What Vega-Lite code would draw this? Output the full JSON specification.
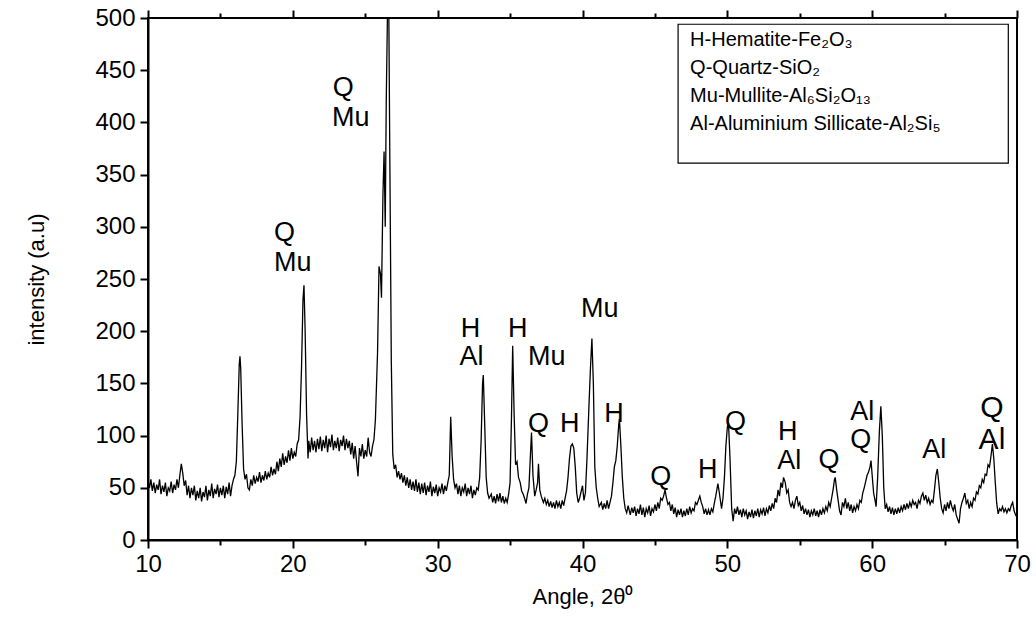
{
 "$schema": "https://vega.github.io/schema/vega-lite/v6.json",
 "width": 869,
 "height": 522,
 "autosize": {"type": "none"},
 "padding": {"left": 148, "top": 18, "right": 19, "bottom": 80},
 "background": "white",
 "config": {
  "view": {"stroke": "black", "strokeWidth": 2},
  "font": "Liberation Sans",
  "style": {"guide-label": {"fontSize": 24, "font": "Liberation Sans", "fill": "black"}, "guide-title": {"fontSize": 22, "font": "Liberation Sans", "fill": "black", "fontWeight": "normal"}},
  "axis": {"domainColor": "black", "domainWidth": 2, "tickColor": "black", "tickWidth": 2, "labelColor": "black", "titleColor": "black", "grid": false, "titleFontWeight": "normal"}
 },
 "datasets": {
  "xrd": [
   {"angle":10.0,"intensity":57},{"angle":10.1,"intensity":50},{"angle":10.2,"intensity":58},{"angle":10.3,"intensity":47},{"angle":10.4,"intensity":55},{"angle":10.5,"intensity":45},{"angle":10.6,"intensity":53},{"angle":10.7,"intensity":48},{"angle":10.8,"intensity":58},{"angle":10.9,"intensity":44},
   {"angle":11.0,"intensity":52},{"angle":11.1,"intensity":46},{"angle":11.2,"intensity":55},{"angle":11.3,"intensity":42},{"angle":11.4,"intensity":50},{"angle":11.5,"intensity":47},{"angle":11.6,"intensity":56},{"angle":11.7,"intensity":45},{"angle":11.8,"intensity":53},{"angle":11.9,"intensity":48},
   {"angle":12.0,"intensity":58},{"angle":12.1,"intensity":50},{"angle":12.2,"intensity":62},{"angle":12.3,"intensity":73},{"angle":12.4,"intensity":64},{"angle":12.5,"intensity":52},{"angle":12.6,"intensity":57},{"angle":12.7,"intensity":43},{"angle":12.8,"intensity":52},{"angle":12.9,"intensity":40},
   {"angle":13.0,"intensity":50},{"angle":13.1,"intensity":43},{"angle":13.2,"intensity":52},{"angle":13.3,"intensity":38},{"angle":13.4,"intensity":47},{"angle":13.5,"intensity":40},{"angle":13.6,"intensity":50},{"angle":13.7,"intensity":37},{"angle":13.8,"intensity":46},{"angle":13.9,"intensity":41},
   {"angle":14.0,"intensity":52},{"angle":14.1,"intensity":38},{"angle":14.2,"intensity":48},{"angle":14.3,"intensity":42},{"angle":14.4,"intensity":54},{"angle":14.5,"intensity":40},{"angle":14.6,"intensity":49},{"angle":14.7,"intensity":44},{"angle":14.8,"intensity":53},{"angle":14.9,"intensity":41},
   {"angle":15.0,"intensity":50},{"angle":15.1,"intensity":43},{"angle":15.2,"intensity":52},{"angle":15.3,"intensity":40},{"angle":15.4,"intensity":51},{"angle":15.5,"intensity":44},{"angle":15.6,"intensity":55},{"angle":15.7,"intensity":42},{"angle":15.8,"intensity":52},{"angle":15.9,"intensity":58},
   {"angle":16.0,"intensity":62},{"angle":16.1,"intensity":75},{"angle":16.2,"intensity":120},{"angle":16.3,"intensity":168},{"angle":16.35,"intensity":176},{"angle":16.4,"intensity":165},{"angle":16.5,"intensity":110},{"angle":16.6,"intensity":68},{"angle":16.7,"intensity":58},{"angle":16.8,"intensity":63},{"angle":16.9,"intensity":50},
   {"angle":17.0,"intensity":48},{"angle":17.1,"intensity":58},{"angle":17.2,"intensity":52},{"angle":17.3,"intensity":62},{"angle":17.4,"intensity":54},{"angle":17.5,"intensity":60},{"angle":17.6,"intensity":56},{"angle":17.7,"intensity":65},{"angle":17.8,"intensity":55},{"angle":17.9,"intensity":62},
   {"angle":18.0,"intensity":57},{"angle":18.1,"intensity":66},{"angle":18.2,"intensity":58},{"angle":18.3,"intensity":64},{"angle":18.4,"intensity":60},{"angle":18.5,"intensity":70},{"angle":18.6,"intensity":62},{"angle":18.7,"intensity":68},{"angle":18.8,"intensity":63},{"angle":18.9,"intensity":75},
   {"angle":19.0,"intensity":66},{"angle":19.1,"intensity":78},{"angle":19.2,"intensity":70},{"angle":19.3,"intensity":83},{"angle":19.4,"intensity":72},{"angle":19.5,"intensity":80},{"angle":19.6,"intensity":74},{"angle":19.7,"intensity":86},{"angle":19.8,"intensity":76},{"angle":19.9,"intensity":88},
   {"angle":20.0,"intensity":78},{"angle":20.1,"intensity":84},{"angle":20.2,"intensity":80},{"angle":20.3,"intensity":92},{"angle":20.4,"intensity":96},{"angle":20.5,"intensity":118},{"angle":20.6,"intensity":165},{"angle":20.7,"intensity":230},{"angle":20.77,"intensity":244},{"angle":20.85,"intensity":200},{"angle":20.95,"intensity":120},
   {"angle":21.05,"intensity":78},{"angle":21.1,"intensity":95},{"angle":21.2,"intensity":84},{"angle":21.3,"intensity":98},{"angle":21.4,"intensity":86},{"angle":21.5,"intensity":95},{"angle":21.6,"intensity":84},{"angle":21.7,"intensity":97},{"angle":21.8,"intensity":87},{"angle":21.9,"intensity":99},
   {"angle":22.0,"intensity":85},{"angle":22.1,"intensity":96},{"angle":22.2,"intensity":88},{"angle":22.3,"intensity":100},{"angle":22.4,"intensity":84},{"angle":22.5,"intensity":97},{"angle":22.6,"intensity":89},{"angle":22.7,"intensity":101},{"angle":22.8,"intensity":86},{"angle":22.9,"intensity":95},
   {"angle":23.0,"intensity":88},{"angle":23.1,"intensity":98},{"angle":23.2,"intensity":85},{"angle":23.3,"intensity":96},{"angle":23.4,"intensity":90},{"angle":23.5,"intensity":100},{"angle":23.6,"intensity":86},{"angle":23.7,"intensity":97},{"angle":23.8,"intensity":88},{"angle":23.9,"intensity":95},
   {"angle":24.0,"intensity":82},{"angle":24.1,"intensity":93},{"angle":24.2,"intensity":78},{"angle":24.3,"intensity":90},{"angle":24.4,"intensity":75},{"angle":24.5,"intensity":61},{"angle":24.6,"intensity":88},{"angle":24.7,"intensity":80},{"angle":24.8,"intensity":92},{"angle":24.9,"intensity":78},
   {"angle":25.0,"intensity":86},{"angle":25.1,"intensity":80},{"angle":25.2,"intensity":98},{"angle":25.3,"intensity":84},{"angle":25.4,"intensity":80},{"angle":25.5,"intensity":90},{"angle":25.6,"intensity":96},{"angle":25.7,"intensity":115},{"angle":25.85,"intensity":180},{"angle":25.95,"intensity":262},
   {"angle":26.05,"intensity":255},{"angle":26.12,"intensity":232},{"angle":26.22,"intensity":330},{"angle":26.3,"intensity":372},{"angle":26.38,"intensity":300},{"angle":26.45,"intensity":420},{"angle":26.55,"intensity":520},{"angle":26.62,"intensity":520},{"angle":26.7,"intensity":360},{"angle":26.8,"intensity":170},{"angle":26.9,"intensity":82},
   {"angle":27.0,"intensity":68},{"angle":27.1,"intensity":72},{"angle":27.2,"intensity":60},{"angle":27.3,"intensity":66},{"angle":27.4,"intensity":58},{"angle":27.5,"intensity":64},{"angle":27.6,"intensity":55},{"angle":27.7,"intensity":62},{"angle":27.8,"intensity":52},{"angle":27.9,"intensity":60},
   {"angle":28.0,"intensity":50},{"angle":28.1,"intensity":58},{"angle":28.2,"intensity":48},{"angle":28.3,"intensity":56},{"angle":28.4,"intensity":47},{"angle":28.5,"intensity":58},{"angle":28.6,"intensity":46},{"angle":28.7,"intensity":55},{"angle":28.8,"intensity":44},{"angle":28.9,"intensity":54},
   {"angle":29.0,"intensity":45},{"angle":29.1,"intensity":55},{"angle":29.2,"intensity":43},{"angle":29.3,"intensity":52},{"angle":29.4,"intensity":46},{"angle":29.5,"intensity":56},{"angle":29.6,"intensity":42},{"angle":29.7,"intensity":51},{"angle":29.8,"intensity":45},{"angle":29.9,"intensity":53},
   {"angle":30.0,"intensity":42},{"angle":30.1,"intensity":50},{"angle":30.2,"intensity":46},{"angle":30.3,"intensity":54},{"angle":30.4,"intensity":44},{"angle":30.5,"intensity":52},{"angle":30.6,"intensity":47},{"angle":30.7,"intensity":55},{"angle":30.8,"intensity":62},{"angle":30.9,"intensity":118},
   {"angle":31.0,"intensity":80},{"angle":31.1,"intensity":58},{"angle":31.2,"intensity":50},{"angle":31.3,"intensity":54},{"angle":31.4,"intensity":44},{"angle":31.5,"intensity":52},{"angle":31.6,"intensity":42},{"angle":31.7,"intensity":50},{"angle":31.8,"intensity":46},{"angle":31.9,"intensity":54},
   {"angle":32.0,"intensity":42},{"angle":32.1,"intensity":50},{"angle":32.2,"intensity":44},{"angle":32.3,"intensity":52},{"angle":32.4,"intensity":40},{"angle":32.5,"intensity":48},{"angle":32.6,"intensity":43},{"angle":32.7,"intensity":50},{"angle":32.8,"intensity":48},{"angle":32.9,"intensity":60},
   {"angle":33.0,"intensity":95},{"angle":33.1,"intensity":150},{"angle":33.15,"intensity":158},{"angle":33.25,"intensity":110},{"angle":33.35,"intensity":60},{"angle":33.45,"intensity":45},{"angle":33.55,"intensity":40},{"angle":33.7,"intensity":44},{"angle":33.8,"intensity":36},{"angle":33.9,"intensity":42},
   {"angle":34.0,"intensity":35},{"angle":34.1,"intensity":44},{"angle":34.2,"intensity":37},{"angle":34.3,"intensity":45},{"angle":34.4,"intensity":36},{"angle":34.5,"intensity":42},{"angle":34.6,"intensity":35},{"angle":34.7,"intensity":40},{"angle":34.8,"intensity":36},{"angle":34.9,"intensity":44},
   {"angle":35.0,"intensity":55},{"angle":35.1,"intensity":120},{"angle":35.18,"intensity":186},{"angle":35.28,"intensity":120},{"angle":35.38,"intensity":72},{"angle":35.48,"intensity":75},{"angle":35.58,"intensity":60},{"angle":35.7,"intensity":55},{"angle":35.8,"intensity":47},{"angle":35.9,"intensity":44},
   {"angle":36.0,"intensity":40},{"angle":36.1,"intensity":35},{"angle":36.2,"intensity":44},{"angle":36.3,"intensity":50},{"angle":36.4,"intensity":80},{"angle":36.48,"intensity":103},{"angle":36.58,"intensity":62},{"angle":36.7,"intensity":42},{"angle":36.8,"intensity":48},{"angle":36.9,"intensity":55},{"angle":36.96,"intensity":73},
   {"angle":37.05,"intensity":48},{"angle":37.15,"intensity":42},{"angle":37.3,"intensity":36},{"angle":37.4,"intensity":40},{"angle":37.5,"intensity":34},{"angle":37.6,"intensity":38},{"angle":37.7,"intensity":32},{"angle":37.8,"intensity":37},{"angle":37.9,"intensity":31},
   {"angle":38.0,"intensity":36},{"angle":38.1,"intensity":30},{"angle":38.2,"intensity":38},{"angle":38.3,"intensity":32},{"angle":38.4,"intensity":36},{"angle":38.5,"intensity":30},{"angle":38.6,"intensity":38},{"angle":38.7,"intensity":33},{"angle":38.8,"intensity":40},{"angle":38.9,"intensity":47},
   {"angle":39.0,"intensity":60},{"angle":39.1,"intensity":78},{"angle":39.2,"intensity":90},{"angle":39.3,"intensity":92},{"angle":39.4,"intensity":88},{"angle":39.5,"intensity":70},{"angle":39.6,"intensity":45},{"angle":39.7,"intensity":36},{"angle":39.8,"intensity":40},{"angle":39.9,"intensity":46},
   {"angle":40.0,"intensity":52},{"angle":40.1,"intensity":38},{"angle":40.2,"intensity":45},{"angle":40.3,"intensity":75},{"angle":40.45,"intensity":130},{"angle":40.55,"intensity":165},{"angle":40.65,"intensity":193},{"angle":40.75,"intensity":150},{"angle":40.85,"intensity":70},{"angle":40.95,"intensity":50},
   {"angle":41.05,"intensity":40},{"angle":41.15,"intensity":32},{"angle":41.3,"intensity":36},{"angle":41.4,"intensity":29},{"angle":41.5,"intensity":35},{"angle":41.6,"intensity":30},{"angle":41.7,"intensity":38},{"angle":41.8,"intensity":30},{"angle":41.9,"intensity":36},
   {"angle":42.0,"intensity":42},{"angle":42.1,"intensity":55},{"angle":42.2,"intensity":70},{"angle":42.3,"intensity":76},{"angle":42.4,"intensity":90},{"angle":42.5,"intensity":110},{"angle":42.55,"intensity":116},{"angle":42.65,"intensity":90},{"angle":42.75,"intensity":60},{"angle":42.85,"intensity":40},{"angle":42.95,"intensity":30},
   {"angle":43.05,"intensity":26},{"angle":43.15,"intensity":33},{"angle":43.3,"intensity":24},{"angle":43.4,"intensity":31},{"angle":43.5,"intensity":26},{"angle":43.6,"intensity":32},{"angle":43.7,"intensity":23},{"angle":43.8,"intensity":30},{"angle":43.9,"intensity":25},
   {"angle":44.0,"intensity":34},{"angle":44.1,"intensity":24},{"angle":44.2,"intensity":31},{"angle":44.3,"intensity":22},{"angle":44.4,"intensity":30},{"angle":44.5,"intensity":26},{"angle":44.6,"intensity":33},{"angle":44.7,"intensity":23},{"angle":44.8,"intensity":30},{"angle":44.9,"intensity":27},
   {"angle":45.0,"intensity":34},{"angle":45.1,"intensity":28},{"angle":45.2,"intensity":36},{"angle":45.3,"intensity":30},{"angle":45.4,"intensity":40},{"angle":45.5,"intensity":38},{"angle":45.6,"intensity":42},{"angle":45.7,"intensity":48},{"angle":45.8,"intensity":40},{"angle":45.9,"intensity":34},
   {"angle":46.0,"intensity":36},{"angle":46.1,"intensity":28},{"angle":46.2,"intensity":34},{"angle":46.3,"intensity":25},{"angle":46.4,"intensity":31},{"angle":46.5,"intensity":22},{"angle":46.6,"intensity":29},{"angle":46.7,"intensity":24},{"angle":46.8,"intensity":30},{"angle":46.9,"intensity":22},
   {"angle":47.0,"intensity":28},{"angle":47.1,"intensity":23},{"angle":47.2,"intensity":30},{"angle":47.3,"intensity":24},{"angle":47.4,"intensity":32},{"angle":47.5,"intensity":26},{"angle":47.6,"intensity":30},{"angle":47.7,"intensity":28},{"angle":47.8,"intensity":36},{"angle":47.9,"intensity":34},
   {"angle":48.0,"intensity":38},{"angle":48.1,"intensity":42},{"angle":48.2,"intensity":36},{"angle":48.3,"intensity":32},{"angle":48.4,"intensity":25},{"angle":48.5,"intensity":30},{"angle":48.6,"intensity":24},{"angle":48.7,"intensity":29},{"angle":48.8,"intensity":24},{"angle":48.9,"intensity":30},
   {"angle":49.0,"intensity":27},{"angle":49.1,"intensity":35},{"angle":49.2,"intensity":42},{"angle":49.35,"intensity":54},{"angle":49.45,"intensity":45},{"angle":49.6,"intensity":30},{"angle":49.7,"intensity":40},{"angle":49.8,"intensity":60},{"angle":49.9,"intensity":90},
   {"angle":50.0,"intensity":108},{"angle":50.08,"intensity":112},{"angle":50.18,"intensity":80},{"angle":50.3,"intensity":30},{"angle":50.4,"intensity":18},{"angle":50.5,"intensity":30},{"angle":50.6,"intensity":25},{"angle":50.7,"intensity":32},{"angle":50.8,"intensity":24},{"angle":50.9,"intensity":29},
   {"angle":51.0,"intensity":22},{"angle":51.1,"intensity":30},{"angle":51.2,"intensity":24},{"angle":51.3,"intensity":28},{"angle":51.4,"intensity":20},{"angle":51.5,"intensity":27},{"angle":51.6,"intensity":22},{"angle":51.7,"intensity":29},{"angle":51.8,"intensity":21},{"angle":51.9,"intensity":28},
   {"angle":52.0,"intensity":23},{"angle":52.1,"intensity":30},{"angle":52.2,"intensity":22},{"angle":52.3,"intensity":29},{"angle":52.4,"intensity":25},{"angle":52.5,"intensity":31},{"angle":52.6,"intensity":23},{"angle":52.7,"intensity":30},{"angle":52.8,"intensity":26},{"angle":52.9,"intensity":33},
   {"angle":53.0,"intensity":28},{"angle":53.1,"intensity":35},{"angle":53.2,"intensity":30},{"angle":53.3,"intensity":40},{"angle":53.4,"intensity":36},{"angle":53.5,"intensity":48},{"angle":53.6,"intensity":42},{"angle":53.7,"intensity":55},{"angle":53.8,"intensity":50},{"angle":53.88,"intensity":60},
   {"angle":54.0,"intensity":55},{"angle":54.1,"intensity":45},{"angle":54.2,"intensity":48},{"angle":54.3,"intensity":36},{"angle":54.4,"intensity":32},{"angle":54.5,"intensity":36},{"angle":54.6,"intensity":30},{"angle":54.7,"intensity":38},{"angle":54.8,"intensity":42},{"angle":54.9,"intensity":33},
   {"angle":55.0,"intensity":36},{"angle":55.1,"intensity":28},{"angle":55.2,"intensity":33},{"angle":55.3,"intensity":25},{"angle":55.4,"intensity":30},{"angle":55.5,"intensity":24},{"angle":55.6,"intensity":29},{"angle":55.7,"intensity":22},{"angle":55.8,"intensity":28},{"angle":55.9,"intensity":24},
   {"angle":56.0,"intensity":30},{"angle":56.1,"intensity":23},{"angle":56.2,"intensity":28},{"angle":56.3,"intensity":22},{"angle":56.4,"intensity":29},{"angle":56.5,"intensity":24},{"angle":56.6,"intensity":30},{"angle":56.7,"intensity":26},{"angle":56.8,"intensity":32},{"angle":56.9,"intensity":28},
   {"angle":57.0,"intensity":36},{"angle":57.1,"intensity":32},{"angle":57.2,"intensity":40},{"angle":57.3,"intensity":48},{"angle":57.4,"intensity":58},{"angle":57.45,"intensity":60},{"angle":57.55,"intensity":48},{"angle":57.65,"intensity":38},{"angle":57.75,"intensity":28},{"angle":57.85,"intensity":24},{"angle":57.95,"intensity":36},
   {"angle":58.05,"intensity":32},{"angle":58.15,"intensity":40},{"angle":58.25,"intensity":30},{"angle":58.35,"intensity":36},{"angle":58.45,"intensity":28},{"angle":58.55,"intensity":34},{"angle":58.65,"intensity":26},{"angle":58.75,"intensity":32},{"angle":58.85,"intensity":28},{"angle":58.95,"intensity":34},
   {"angle":59.05,"intensity":30},{"angle":59.15,"intensity":38},{"angle":59.25,"intensity":36},{"angle":59.35,"intensity":45},{"angle":59.45,"intensity":50},{"angle":59.55,"intensity":56},{"angle":59.65,"intensity":62},{"angle":59.75,"intensity":65},{"angle":59.85,"intensity":70},{"angle":59.92,"intensity":76},
   {"angle":60.0,"intensity":62},{"angle":60.1,"intensity":45},{"angle":60.2,"intensity":38},{"angle":60.27,"intensity":32},{"angle":60.38,"intensity":60},{"angle":60.5,"intensity":105},{"angle":60.6,"intensity":128},{"angle":60.7,"intensity":100},{"angle":60.8,"intensity":50},{"angle":60.9,"intensity":30},
   {"angle":61.0,"intensity":34},{"angle":61.1,"intensity":27},{"angle":61.2,"intensity":32},{"angle":61.3,"intensity":25},{"angle":61.4,"intensity":31},{"angle":61.5,"intensity":24},{"angle":61.6,"intensity":30},{"angle":61.7,"intensity":25},{"angle":61.8,"intensity":31},{"angle":61.9,"intensity":26},
   {"angle":62.0,"intensity":32},{"angle":62.1,"intensity":28},{"angle":62.2,"intensity":34},{"angle":62.3,"intensity":29},{"angle":62.4,"intensity":35},{"angle":62.5,"intensity":30},{"angle":62.6,"intensity":36},{"angle":62.7,"intensity":32},{"angle":62.8,"intensity":38},{"angle":62.9,"intensity":34},
   {"angle":63.0,"intensity":36},{"angle":63.1,"intensity":30},{"angle":63.2,"intensity":38},{"angle":63.3,"intensity":35},{"angle":63.4,"intensity":42},{"angle":63.5,"intensity":45},{"angle":63.6,"intensity":38},{"angle":63.7,"intensity":43},{"angle":63.8,"intensity":36},{"angle":63.9,"intensity":40},
   {"angle":64.0,"intensity":34},{"angle":64.1,"intensity":38},{"angle":64.2,"intensity":36},{"angle":64.3,"intensity":48},{"angle":64.4,"intensity":62},{"angle":64.5,"intensity":68},{"angle":64.6,"intensity":55},{"angle":64.7,"intensity":40},{"angle":64.8,"intensity":30},{"angle":64.9,"intensity":26},
   {"angle":65.0,"intensity":34},{"angle":65.1,"intensity":28},{"angle":65.2,"intensity":36},{"angle":65.3,"intensity":30},{"angle":65.4,"intensity":38},{"angle":65.5,"intensity":32},{"angle":65.6,"intensity":28},{"angle":65.7,"intensity":34},{"angle":65.8,"intensity":24},{"angle":65.9,"intensity":20},
   {"angle":66.0,"intensity":16},{"angle":66.1,"intensity":30},{"angle":66.2,"intensity":36},{"angle":66.3,"intensity":40},{"angle":66.4,"intensity":45},{"angle":66.5,"intensity":35},{"angle":66.6,"intensity":38},{"angle":66.7,"intensity":30},{"angle":66.8,"intensity":36},{"angle":66.9,"intensity":32},
   {"angle":67.0,"intensity":40},{"angle":67.1,"intensity":38},{"angle":67.2,"intensity":46},{"angle":67.3,"intensity":44},{"angle":67.4,"intensity":52},{"angle":67.5,"intensity":50},{"angle":67.6,"intensity":58},{"angle":67.7,"intensity":55},{"angle":67.8,"intensity":63},{"angle":67.9,"intensity":62},
   {"angle":68.0,"intensity":72},{"angle":68.1,"intensity":70},{"angle":68.2,"intensity":80},{"angle":68.3,"intensity":92},{"angle":68.4,"intensity":78},{"angle":68.5,"intensity":55},{"angle":68.6,"intensity":35},{"angle":68.7,"intensity":25},{"angle":68.8,"intensity":30},{"angle":68.9,"intensity":28},
   {"angle":69.0,"intensity":32},{"angle":69.1,"intensity":27},{"angle":69.2,"intensity":30},{"angle":69.3,"intensity":26},{"angle":69.4,"intensity":30},{"angle":69.5,"intensity":28},{"angle":69.6,"intensity":33},{"angle":69.7,"intensity":36},{"angle":69.8,"intensity":28},{"angle":69.9,"intensity":24},{"angle":70.0,"intensity":22}
  ],
  "labels": [
   {"angle":22.75,"intensity":433,"text":"Q"},{"angle":22.7,"intensity":404,"text":"Mu"},
   {"angle":18.7,"intensity":294,"text":"Q"},{"angle":18.7,"intensity":265,"text":"Mu"},
   {"angle":31.6,"intensity":202,"text":"H"},{"angle":31.5,"intensity":175,"text":"Al"},
   {"angle":34.86,"intensity":202,"text":"H"},{"angle":36.24,"intensity":175,"text":"Mu"},
   {"angle":39.9,"intensity":221,"text":"Mu"},
   {"angle":36.24,"intensity":111,"text":"Q"},{"angle":38.45,"intensity":111,"text":"H"},
   {"angle":41.5,"intensity":121,"text":"H"},
   {"angle":44.67,"intensity":60,"text":"Q"},{"angle":47.98,"intensity":67,"text":"H"},
   {"angle":49.84,"intensity":113,"text":"Q"},
   {"angle":53.5,"intensity":103,"text":"H"},{"angle":53.45,"intensity":76,"text":"Al"},
   {"angle":56.3,"intensity":77,"text":"Q"},
   {"angle":58.48,"intensity":123,"text":"Al"},{"angle":58.48,"intensity":96,"text":"Q"},
   {"angle":63.45,"intensity":86,"text":"Al"},
   {"angle":67.46,"intensity":126,"text":"Q"},{"angle":67.35,"intensity":96,"text":"Al"}
  ],
  "legend": [
   {"angle":47.43,"intensity":479,"text":"H-Hematite-Fe₂O₃"},
   {"angle":47.43,"intensity":452,"text":"Q-Quartz-SiO₂"},
   {"angle":47.43,"intensity":425,"text":"Mu-Mullite-Al₆Si₂O₁₃"},
   {"angle":47.43,"intensity":398,"text":"Al-Aluminium Sillicate-Al₂Si₅"}
  ],
  "box": [
   {"angle":46.6,"angle2":69.4,"intensity":494,"intensity2":361}
  ]
 },
 "layer": [
  {
   "data": {"name": "xrd"},
   "mark": {"type": "line", "color": "black", "strokeWidth": 1.3, "clip": true},
   "encoding": {
    "x": {"field": "angle", "type": "quantitative", "scale": {"domain": [10, 70], "nice": false, "zero": false},
     "axis": {"orient": "bottom", "title": "Angle, 2θ⁰", "titlePadding": 10,
      "values": [10,15,20,25,30,35,40,45,50,55,60,65,70],
      "labelExpr": "datum.value % 10 === 0 ? datum.label : ''",
      "tickSize": {"condition": {"test": "datum.value % 10 === 0", "value": 8}, "value": 5},
      "labelPadding": 4, "labelFlush": false}},
    "y": {"field": "intensity", "type": "quantitative", "scale": {"domain": [0, 500], "nice": false},
     "axis": {"title": "intensity (a.u)", "titlePadding": 46,
      "values": [0,25,50,75,100,125,150,175,200,225,250,275,300,325,350,375,400,425,450,475,500],
      "labelExpr": "datum.value % 50 === 0 ? datum.label : ''",
      "tickSize": {"condition": {"test": "datum.value % 50 === 0", "value": 8}, "value": 5},
      "labelPadding": 5, "labelFlush": false}}
   }
  },
  {
   "data": {"name": "box"},
   "mark": {"type": "rect", "fill": "white", "fillOpacity": 0, "stroke": "black", "strokeWidth": 1.2},
   "encoding": {
    "x": {"field": "angle", "type": "quantitative",
     "axis": {"orient": "top", "title": null, "labels": false, "domain": false,
      "values": [10,15,20,25,30,35,40,45,50,55,60,65,70],
      "tickSize": {"condition": {"test": "datum.value % 10 === 0", "value": 8}, "value": 5}}},
    "x2": {"field": "angle2"},
    "y": {"field": "intensity", "type": "quantitative"},
    "y2": {"field": "intensity2"}
   }
  },
  {
   "data": {"name": "labels"},
   "transform": [{"filter": "datum.angle < 67"}],
   "mark": {"type": "text", "align": "left", "baseline": "middle", "font": "Liberation Sans", "fontSize": 27, "color": "black"},
   "encoding": {
    "x": {"field": "angle", "type": "quantitative", "axis": null},
    "y": {"field": "intensity", "type": "quantitative"},
    "text": {"field": "text"}
   }
  },
  {
   "data": {"name": "labels"},
   "transform": [{"filter": "datum.angle >= 67"}],
   "mark": {"type": "text", "align": "left", "baseline": "middle", "font": "Liberation Sans", "fontSize": 30, "color": "black"},
   "encoding": {
    "x": {"field": "angle", "type": "quantitative", "axis": null},
    "y": {"field": "intensity", "type": "quantitative"},
    "text": {"field": "text"}
   }
  },
  {
   "data": {"name": "legend"},
   "mark": {"type": "text", "align": "left", "baseline": "middle", "font": "Liberation Sans", "fontSize": 20, "color": "black"},
   "encoding": {
    "x": {"field": "angle", "type": "quantitative", "axis": null},
    "y": {"field": "intensity", "type": "quantitative"},
    "text": {"field": "text"}
   }
  }
 ],
 "resolve": {"axis": {"x": "independent"}}
}
